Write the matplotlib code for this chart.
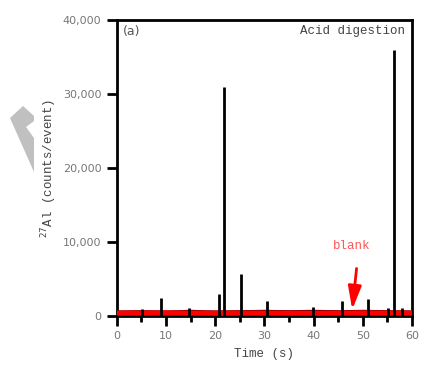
import matplotlib.pyplot as plt
from matplotlib.patches import Polygon

# spike events of the acid digestion sample (time in s, counts/event)
spike_t = [5.1, 9.0, 14.7, 20.8, 21.9, 25.3, 30.5, 39.8, 45.8, 51.0, 55.1, 56.3, 58.0]
spike_h = [900, 2500, 1100, 3000, 30900, 5700, 2000, 1200, 2000, 2250, 1100, 35950, 1100]

# background level of the sample signal
base_t = [0, 5, 10, 15, 20, 25, 30, 35, 40, 45, 50, 55, 60]
base_v = [600, 650, 600, 700, 600, 650, 700, 650, 700, 650, 700, 650, 600]

# blank signal
blank_t = [0, 10, 20, 30, 40, 50, 60]
blank_v = [400, 420, 400, 410, 400, 420, 400]

x_ticks = [0, 10, 20, 30, 40, 50, 60]
y_ticks = [0, 10000, 20000, 30000, 40000]
y_labels = ['0', '10,000', '20,000', '30,000', '40,000']

fig = plt.figure(figsize=(4.22, 3.65), dpi=100)
ax = fig.add_axes([0.2765, 0.1342, 0.6998, 0.8108])

ax.plot(base_t, base_v, color='black', lw=1.5, zorder=2)
ax.vlines(spike_t, 0, spike_h, color='black', lw=2, zorder=4)
ax.plot(blank_t, blank_v, color='#ff0000', lw=3.8, zorder=3)

ax.set_xlim(0, 60)
ax.set_ylim(0, 40000)
ax.set_xticks(x_ticks)
ax.set_xticks([5, 15, 25, 35, 45, 55], minor=True)
ax.set_yticks(y_ticks)
ax.set_yticklabels(y_labels)

for s in ax.spines.values():
    s.set_linewidth(2)
ax.tick_params(axis='both', which='major', length=7, width=2, direction='out',
               labelsize=8, labelcolor='#777777', pad=4)
ax.tick_params(axis='x', which='minor', length=4, width=2, direction='out')

mono = 'Liberation Mono'
ax.set_xlabel('Time (s)', family=mono, fontsize=9, color='#444444', labelpad=5)
ax.set_ylabel('$^{27}$Al (counts/event)', family=mono, fontsize=9, color='#444444',
              labelpad=3)
ax.text(0.02, 0.985, '(a)', transform=ax.transAxes, fontsize=9, color='#555555',
        va='top', ha='left')
ax.text(0.975, 0.985, 'Acid digestion', transform=ax.transAxes, family=mono,
        fontsize=9, color='#444444', va='top', ha='right')
ax.text(47.8, 9400, 'blank', family=mono, fontsize=9, color='#ff5555',
        ha='center', va='center')
ax.annotate('', xy=(47.8, 500), xytext=(48.8, 6800),
            arrowprops=dict(arrowstyle='-|>,head_width=0.4,head_length=1.4',
                            color='#ff0000', lw=2))

# grey decorative arrow on the left margin
pts = [(10, 118), (23, 106), (34, 116), (34, 121), (26, 127), (34, 138), (34, 172)]
fig.patches.append(Polygon([(x / 422, 1 - y / 365) for x, y in pts],
                           closed=True, transform=fig.transFigure,
                           facecolor='#c0c0c0', edgecolor='none'))

fig.savefig('out.png', dpi=100)
